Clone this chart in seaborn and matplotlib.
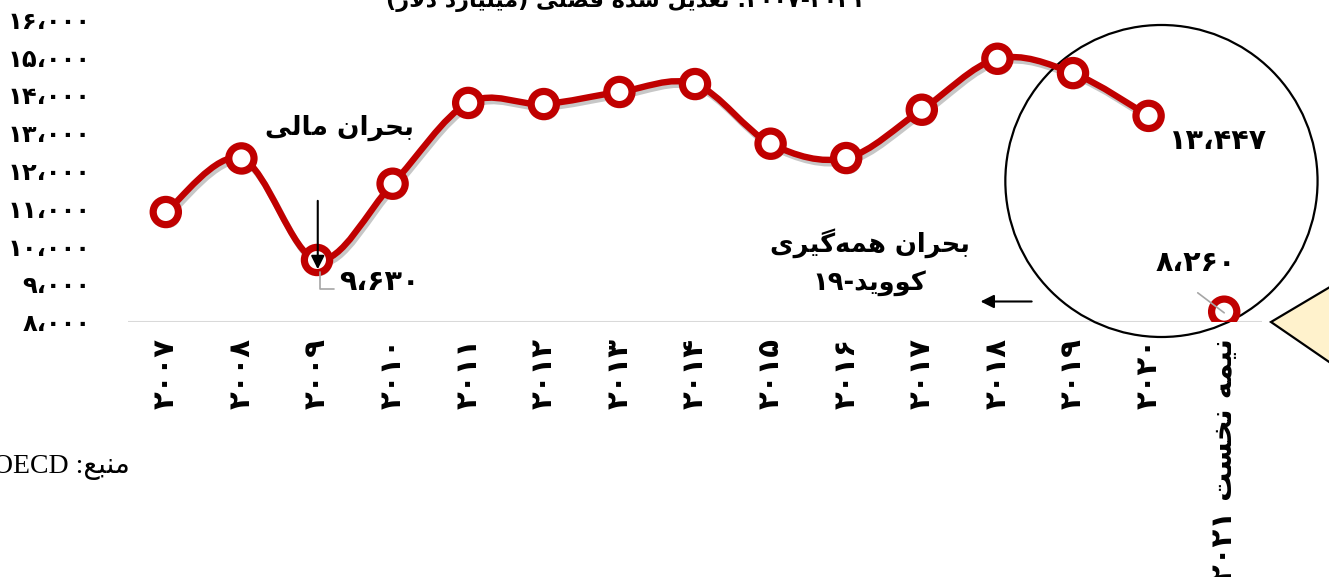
import numpy as np
import pandas as pd
import matplotlib
matplotlib.use("Agg")
import matplotlib.pyplot as plt
import seaborn as sns
from matplotlib.path import Path
from matplotlib.patches import PathPatch, Ellipse, Polygon
import matplotlib.patheffects as pe

# ---------------- data ----------------
categories = ["۲۰۰۷", "۲۰۰۸", "۲۰۰۹", "۲۰۱۰", "۲۰۱۱", "۲۰۱۲", "۲۰۱۳", "۲۰۱۴",
              "۲۰۱۵", "۲۰۱۶", "۲۰۱۷", "۲۰۱۸", "۲۰۱۹", "۲۰۲۰", "نیمه نخست ۲۰۲۱"]
values = [10900, 12320, 9630, 11650, 13790, 13760, 14080, 14290,
          12710, 12330, 13610, 14960, 14580, 13447, 8260]
yticks = [8000, 9000, 10000, 11000, 12000, 13000, 14000, 15000, 16000]
ytick_labels = ["۸،۰۰۰", "۹،۰۰۰", "۱۰،۰۰۰", "۱۱،۰۰۰", "۱۲،۰۰۰",
                "۱۳،۰۰۰", "۱۴،۰۰۰", "۱۵،۰۰۰", "۱۶،۰۰۰"]
label_idx = [2, 13, 14]
label_txt = ["۹،۶۳۰", "۱۳،۴۴۷", "۸،۲۶۰"]
title_txt = "۲۰۰۷-۲۰۲۱: تعدیل شده فصلی (میلیارد دلار)"
source_txt = "منبع: OECD"
fin_txt = "بحران مالی"
covid_txt = ["بحران همه‌گیری", "کووید-۱۹"]

# ---------------- simple Persian shaping (presentation forms + visual order) ----------------
FORMS = {
    "ا": ("\uFE8D", "\uFE8E", None, None),
    "ب": ("\uFE8F", "\uFE90", "\uFE91", "\uFE92"),
    "ت": ("\uFE95", "\uFE96", "\uFE97", "\uFE98"),
    "ث": ("\uFE99", "\uFE9A", "\uFE9B", "\uFE9C"),
    "ج": ("\uFE9D", "\uFE9E", "\uFE9F", "\uFEA0"),
    "ح": ("\uFEA1", "\uFEA2", "\uFEA3", "\uFEA4"),
    "خ": ("\uFEA5", "\uFEA6", "\uFEA7", "\uFEA8"),
    "د": ("\uFEA9", "\uFEAA", None, None),
    "ذ": ("\uFEAB", "\uFEAC", None, None),
    "ر": ("\uFEAD", "\uFEAE", None, None),
    "ز": ("\uFEAF", "\uFEB0", None, None),
    "س": ("\uFEB1", "\uFEB2", "\uFEB3", "\uFEB4"),
    "ش": ("\uFEB5", "\uFEB6", "\uFEB7", "\uFEB8"),
    "ص": ("\uFEB9", "\uFEBA", "\uFEBB", "\uFEBC"),
    "ض": ("\uFEBD", "\uFEBE", "\uFEBF", "\uFEC0"),
    "ط": ("\uFEC1", "\uFEC2", "\uFEC3", "\uFEC4"),
    "ظ": ("\uFEC5", "\uFEC6", "\uFEC7", "\uFEC8"),
    "ع": ("\uFEC9", "\uFECA", "\uFECB", "\uFECC"),
    "غ": ("\uFECD", "\uFECE", "\uFECF", "\uFED0"),
    "ف": ("\uFED1", "\uFED2", "\uFED3", "\uFED4"),
    "ق": ("\uFED5", "\uFED6", "\uFED7", "\uFED8"),
    "ل": ("\uFEDD", "\uFEDE", "\uFEDF", "\uFEE0"),
    "م": ("\uFEE1", "\uFEE2", "\uFEE3", "\uFEE4"),
    "ن": ("\uFEE5", "\uFEE6", "\uFEE7", "\uFEE8"),
    "ه": ("\uFEE9", "\uFEEA", "\uFEEB", "\uFEEC"),
    "و": ("\uFEED", "\uFEEE", None, None),
    "ی": ("\uFBFC", "\uFBFD", "\uFBFE", "\uFBFF"),
    "ک": ("\uFB8E", "\uFB8F", "\uFB90", "\uFB91"),
    "گ": ("\uFB92", "\uFB93", "\uFB94", "\uFB95"),
}
DUAL = {c for c, f in FORMS.items() if f[2] is not None}


def shape(s):
    out = []
    n = len(s)
    i = 0
    while i < n:
        c = s[i]
        if c not in FORMS:
            if c != "\u200c":
                out.append(c)
            i += 1
            continue
        link_prev = i > 0 and s[i - 1] in DUAL
        if c == "ل" and i + 1 < n and s[i + 1] == "ا":
            out.append("\uFEFC" if link_prev else "\uFEFB")
            i += 2
            continue
        link_next = c in DUAL and i + 1 < n and s[i + 1] in FORMS
        iso, fin, ini, med = FORMS[c]
        if link_prev and link_next:
            g = med
        elif link_prev:
            g = fin
        elif link_next:
            g = ini
        else:
            g = iso
        out.append(g)
        i += 1
    return "".join(out)


def fa(s):
    s = shape(s)
    flags = []
    for k, ch in enumerate(s):
        ltr = (ch.isascii() and ch.isalnum()) or ch.isdigit()
        if ch in "-،," and 0 < k < len(s) - 1 and s[k - 1].isdigit() and s[k + 1].isdigit():
            ltr = True
        flags.append(ltr)
    runs = []
    for ch, ltr in zip(s, flags):
        if runs and runs[-1][0] == ltr:
            runs[-1][1].append(ch)
        else:
            runs.append([ltr, [ch]])
    mirror = {"(": ")", ")": "("}
    parts = []
    for ltr, chs in reversed(runs):
        if ltr:
            parts.append("".join(chs))
        else:
            parts.append("".join(mirror.get(c, c) for c in reversed(chs)))
    return "".join(parts)


# ---------------- figure ----------------
sns.set_theme(style="white")
plt.rcParams["font.family"] = ["DejaVu Sans"]
plt.rcParams["text.color"] = "black"
plt.rcParams["xtick.color"] = "black"
plt.rcParams["ytick.color"] = "black"

W, H = 1329, 577
fig = plt.figure(figsize=(W / 100, H / 100), dpi=100)
fig.patch.set_facecolor("white")


def fx(px):
    return px / W


def fy(py):
    return 1 - py / H


ax_l, ax_r, ax_t, ax_b = 128, 1262, 19.5, 321.5
ax = fig.add_axes([fx(ax_l), fy(ax_b), (ax_r - ax_l) / W, (ax_b - ax_t) / H])
ax.set_facecolor("none")

RED = "#C00000"
disp_cats = [fa(c) for c in categories]
df = pd.DataFrame({"cat": disp_cats, "val": values})
xpos = np.arange(len(categories))

# smooth line through the annual points (Catmull-Rom -> cubic Bezier)
line_x = xpos[:14].astype(float)
line_y = np.array(values[:14], dtype=float)
P = np.column_stack([line_x, line_y])
verts = [P[0]]
codes = [Path.MOVETO]
for i in range(len(P) - 1):
    p0 = P[i - 1] if i > 0 else P[i]
    p1, p2 = P[i], P[i + 1]
    p3 = P[i + 2] if i + 2 < len(P) else P[i + 1]
    c1 = p1 + (p2 - p0) / 6.0
    c2 = p2 - (p3 - p1) / 6.0
    verts += [c1, c2, p2]
    codes += [Path.CURVE4] * 3
curve = PathPatch(Path(verts, codes), fill=False, edgecolor=RED, linewidth=4.6,
                  capstyle="round", joinstyle="round", transform=ax.transData, zorder=3)
curve.set_path_effects([pe.SimpleLineShadow(offset=(1.5, -2.5), alpha=0.22, shadow_color="black"),
                        pe.Normal()])
ax.add_patch(curve)

sns.scatterplot(data=df, x="cat", y="val", ax=ax, s=330, color="white",
                edgecolor=RED, linewidth=5.2, zorder=4, legend=False)
for coll in ax.collections:
    coll.set_path_effects([pe.SimplePatchShadow(offset=(1.5, -2.5), alpha=0.22, shadow_rgbFace="black"),
                           pe.Normal()])

ax.set_xlim(-0.5, 14.5)
ax.set_ylim(8000, 16000)
ax.set_yticks(yticks)
ax.set_yticklabels(ytick_labels, fontsize=17.5, fontweight="bold")
ax.set_xticks(xpos)
ax.set_xticklabels(disp_cats, rotation=90, fontsize=21, fontweight="bold", va="top")
ax.tick_params(axis="y", length=0, pad=27)
ax.tick_params(axis="x", length=0, pad=12)
ax.set_xlabel("")
ax.set_ylabel("")
for sp in ax.spines.values():
    sp.set_visible(False)
ax.axhline(8000, color="#D9D9D9", linewidth=1.5, zorder=1)

# value labels
lbl_pos = {2: (2.83, 9046), 13: (13.92, 12781), 14: (13.62, 9550)}
for idx, txt in zip(label_idx, label_txt):
    x, y = lbl_pos[idx]
    ax.text(x, y, txt, fontsize=20.5, fontweight="bold", ha="center", va="center", zorder=5)
# leader lines
ax.plot([2.04, 2.04, 2.22], [9310, 8870, 8870], color="#A6A6A6", linewidth=1.2, zorder=5)
ax.plot([13.65, 14.0], [8760, 8230], color="#A6A6A6", linewidth=1.2, zorder=5)

# financial crisis annotation
ax.text(2.30, 13126, fa(fin_txt), fontsize=19, fontweight="bold", ha="center", va="center")
ax.annotate("", xy=(2.01, 9311), xytext=(2.01, 11270),
            arrowprops=dict(arrowstyle="-|>", color="black", lw=1.5, mutation_scale=20),
            zorder=6)

# covid annotation
ax.text(9.31, 10073, fa(covid_txt[0]), fontsize=18.5, fontweight="bold", ha="center", va="center")
ax.text(9.31, 9020, fa(covid_txt[1]), fontsize=18.5, fontweight="bold", ha="center", va="center")
ax.annotate("", xy=(10.74, 8530), xytext=(11.49, 8530),
            arrowprops=dict(arrowstyle="-|>", color="black", lw=1.5, mutation_scale=20))

# big circle around the recent points
ell = Ellipse((13.17, 11722), width=4.13, height=8265, fill=False, edgecolor="black",
              linewidth=1.6, clip_on=False, zorder=2)
ax.add_patch(ell)

# callout triangle (partially outside figure)
tri = Polygon([(fx(1271), fy(322)), (fx(1335), fy(284)), (fx(1335), fy(366))],
              closed=True, facecolor="#FFF2CC", edgecolor="black", linewidth=1.6,
              transform=fig.transFigure, clip_on=False)
fig.patches.append(tri)

# title (cut off at top as in the reference) and source
fig.text(fx(625), fy(12), fa(title_txt), fontsize=16, fontweight="bold", ha="center", va="bottom")
fig.text(fx(130), fy(467), fa(source_txt), fontsize=20, ha="right", va="center",
         family=["Liberation Serif", "DejaVu Sans"])

fig.savefig("out.png", dpi=100)
